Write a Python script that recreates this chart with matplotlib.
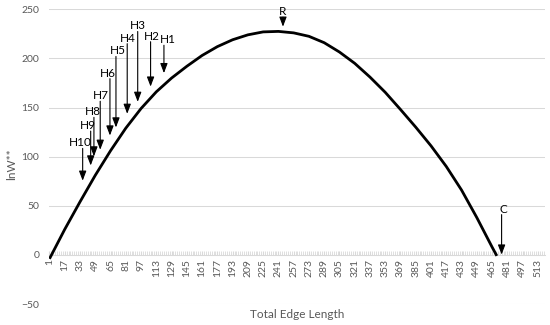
import matplotlib
matplotlib.use("Agg")
import matplotlib.pyplot as plt
import numpy as np

# lnW** curve, read at every 16th category (plus the end point)
edge_len = [1, 17, 33, 49, 65, 81, 97, 113, 129, 145, 161, 177, 193, 209, 225,
            241, 257, 273, 289, 305, 321, 337, 353, 369, 385, 401, 417, 433,
            449, 465, 470]
lnw = [-4, 26, 54, 81, 106, 129, 149, 166, 180, 192, 203, 212, 219, 224, 227,
       227.5, 226, 222.5, 216, 206.5, 195, 181, 165.5, 148, 130, 111, 90, 66,
       38, 8, -1]
n_categories = 520

# arrow annotations: label, x (category), label y, arrow top, arrow tip
ann_labels = ["H1", "H2", "H3", "H4", "H5", "H6", "H7", "H8", "H9", "H10", "R", "C"]
ann_x = [121, 107, 93.5, 82.5, 70.7, 64.4, 54.2, 47.6, 44.2, 35.8, 245.8, 475]
ann_label_x = [124.9, 108, 94, 83.6, 72.5, 62.6, 55, 46.6, 41.4, 33, 245.8, 476.7]
ann_label_y = [219, 222.7, 233, 220.5, 207.6, 185, 162, 145.6, 131.5, 114, 247.6, 46.7]
ann_top = [213.4, 217, 227.4, 215, 202, 179.4, 156.4, 140, 126, 108.4, 242, 41]
ann_tip = [185, 171.3, 155.8, 143.6, 129.7, 121.5, 107, 100.2, 91, 75.5, 232.3, 0.3]

GRAY = "#595959"
plt.rcParams["font.family"] = ["Lato", "DejaVu Sans"]

fig = plt.figure(figsize=(5.5, 3.25), dpi=100)
ax = fig.add_axes([49 / 550, 21 / 325, 496 / 550, 294.7 / 325])

ax.plot(edge_len, lnw, color="black", lw=2.0, solid_capstyle="butt", zorder=3)

for lab, x, lx, ly, top, tip in zip(ann_labels, ann_x, ann_label_x, ann_label_y, ann_top, ann_tip):
    ax.annotate("", xy=(x, tip), xytext=(x, top),
                arrowprops=dict(arrowstyle="-|>,head_length=0.58,head_width=0.22",
                                color="black", lw=0.8, mutation_scale=10,
                                shrinkA=0, shrinkB=0), zorder=4)
    ax.text(lx, ly, lab, ha="center", va="center", fontsize=8.5, color="black", zorder=5)

ax.set_xlim(0.5, n_categories + 0.5)
ax.set_ylim(-50, 250)
ax.set_yticks(np.arange(-50, 251, 50))
ax.grid(axis="y", color="#d9d9d9", lw=0.75)
ax.set_axisbelow(True)

ax.set_xticks(np.arange(1, 514, 16))
ax.set_xticks(np.arange(1, n_categories + 1, 2), minor=True)
ax.tick_params(axis="x", which="major", labelrotation=90, labelsize=7.5, labelcolor=GRAY,
               length=3, direction="in", color="#d9d9d9", pad=3)
ax.tick_params(axis="x", which="minor", length=3, direction="in", color="#d9d9d9", width=0.6)
ax.tick_params(axis="y", length=0, labelsize=7.5, labelcolor=GRAY, pad=7)
for t in ax.get_xticklabels():
    t.set_va("top")

for s in ["top", "right", "left"]:
    ax.spines[s].set_visible(False)
ax.spines["bottom"].set_position(("data", 0))
ax.spines["bottom"].set_color("#d9d9d9")
ax.spines["bottom"].set_linewidth(0.75)

fig.text(297 / 550, 1 - 315 / 325, "Total Edge Length", ha="center", va="center",
         fontsize=8.5, color=GRAY)
fig.text(12 / 550, 1 - 164 / 325, "lnW**", ha="center", va="center", rotation=90,
         fontsize=8.5, color=GRAY)

fig.savefig("out.png", dpi=100)
